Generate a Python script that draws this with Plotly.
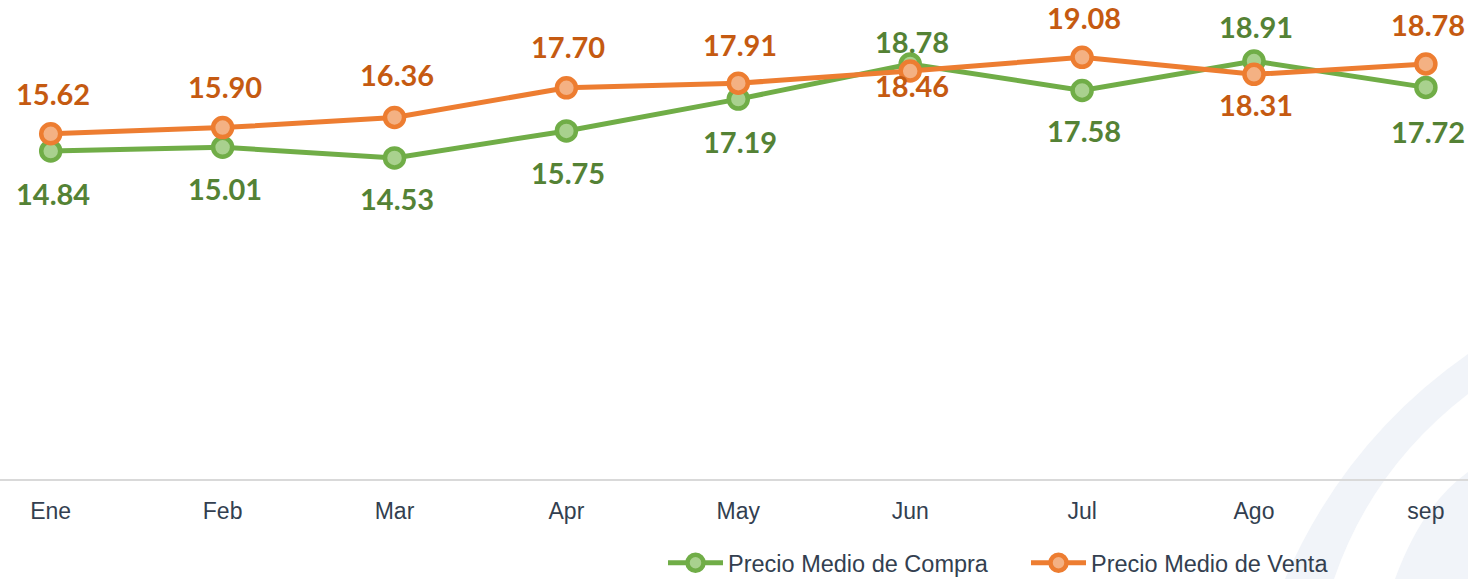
import plotly.graph_objects as go

# Monthly average prices
months = ["Ene", "Feb", "Mar", "Apr", "May", "Jun", "Jul", "Ago", "sep"]
compra = [14.84, 15.01, 14.53, 15.75, 17.19, 18.78, 17.58, 18.91, 17.72]
venta = [15.62, 15.90, 16.36, 17.70, 17.91, 18.46, 19.08, 18.31, 18.78]

# Vertical offsets (px) of each value label relative to its point
compra_label_shift = [-42, -41, -41, -42, -42, 22, -40, 35, -44]
venta_label_shift = [40, 41, 43, 41, 39, -14, 40, -30, 39]

W, H = 1468, 579
PLOT_BOTTOM = 479  # px from top where the x axis sits

GREEN, GREEN_LIGHT, GREEN_TEXT = "#70ad47", "#a9d18e", "#548235"
ORANGE, ORANGE_LIGHT, ORANGE_TEXT = "#ed7d31", "#f4b183", "#c55a11"
TEXT = "#333f50"

fig = go.Figure()

for name, vals, col, light in [
    ("Precio Medio de Compra", compra, GREEN, GREEN_LIGHT),
    ("Precio Medio de Venta", venta, ORANGE, ORANGE_LIGHT),
]:
    fig.add_trace(go.Scatter(
        x=months, y=vals, name=name, mode="lines+markers",
        line=dict(color=col, width=5),
        marker=dict(size=19, color=light, line=dict(color=col, width=4.5)),
        hoverinfo="x+y",
    ))

annotations = []
for vals, shifts, col in [
    (compra, compra_label_shift, GREEN_TEXT),
    (venta, venta_label_shift, ORANGE_TEXT),
]:
    for m, v, s in zip(months, vals, shifts):
        annotations.append(dict(
            x=m, y=v, xref="x", yref="y", text=f"{v:.2f}", showarrow=False,
            yshift=s, xshift=2,
            font=dict(family="Lato", size=29, color=col, weight="bold"),
        ))


def px_to_paper(x, y):
    return x / W, (PLOT_BOTTOM - y) / PLOT_BOTTOM


def path(cmds):
    out = []
    for c in cmds:
        if c == "Z":
            out.append("Z")
            continue
        op, pts = c[0], c[1:]
        coords = " ".join("%.5f,%.5f" % px_to_paper(*p) for p in pts)
        out.append(f"{op} {coords}")
    return " ".join(out)


# Faint decorative arcs in the lower right corner
swoosh = [
    [("M", (1285, 579)), ("Q", (1345, 440), (1468, 354)), ("L", (1468, 394)),
     ("Q", (1372, 468), (1334, 579)), "Z"],
    [("M", (1395, 579)), ("Q", (1422, 505), (1468, 472)), ("L", (1468, 579)), "Z"],
]
shapes = [
    dict(type="path", xref="paper", yref="paper", path=path(p),
         fillcolor="#f1f4f9", line=dict(width=0), layer="below")
    for p in swoosh
]

fig.update_layout(
    width=W, height=H,
    margin=dict(l=0, r=0, t=0, b=H - PLOT_BOTTOM, autoexpand=False),
    paper_bgcolor="white", plot_bgcolor="rgba(0,0,0,0)",
    showlegend=True,
    legend=dict(
        orientation="h", x=663 / W, xanchor="left",
        y=(PLOT_BOTTOM - 563) / PLOT_BOTTOM, yanchor="middle",
        font=dict(family="Liberation Sans", size=23.5, color=TEXT),
        itemwidth=55, entrywidth=293, entrywidthmode="pixels",
        bgcolor="rgba(0,0,0,0)",
    ),
    xaxis=dict(
        type="category", range=[-0.295, 8.245], showgrid=False, zeroline=False,
        showline=True, linecolor="#d9d9d9", linewidth=2,
        ticks="", ticklabelstandoff=10,
        tickfont=dict(family="Liberation Sans", size=23, color=TEXT),
    ),
    yaxis=dict(range=[0, PLOT_BOTTOM / 22.1], visible=False, showgrid=False),
    annotations=annotations,
    shapes=shapes,
)

fig.write_html("out.html")
